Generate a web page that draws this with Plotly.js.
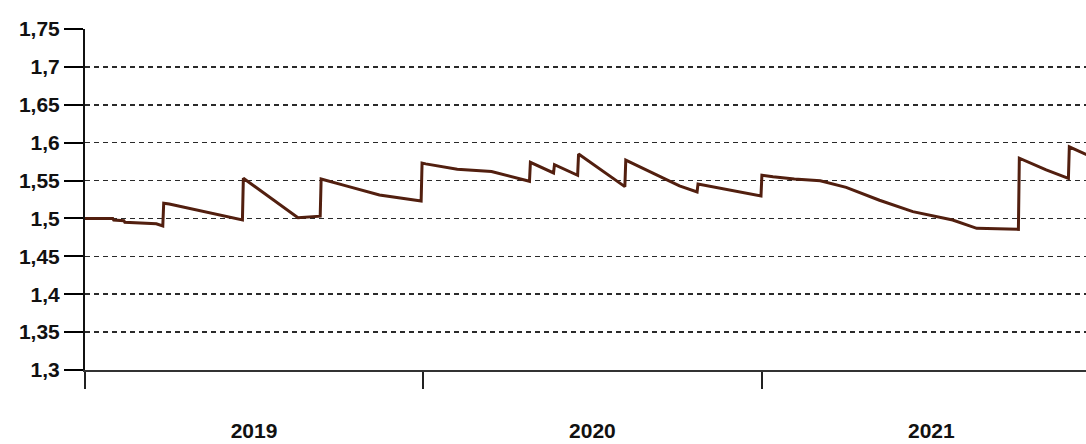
<!DOCTYPE html>
<html>
<head>
<meta charset="utf-8">
<script src="https://cdn.plot.ly/plotly-3.0.1.min.js"></script>
<style>
  html, body { margin: 0; padding: 0; background: #ffffff; }
  #chart { width: 1086px; height: 444px; }
</style>
</head>
<body>
<div id="chart"></div>
<script>
// Dates of the observations
const dates = [
  '2019-01-01', '2019-01-31', '2019-02-01', '2019-02-12', '2019-02-13', '2019-03-19', '2019-03-26',
  '2019-03-27', '2019-04-02', '2019-05-01', '2019-06-20',
  '2019-06-21', '2019-08-19', '2019-09-12',
  '2019-09-13', '2019-10-10', '2019-11-15', '2019-12-30',
  '2019-12-31', '2020-01-04', '2020-02-07', '2020-03-15', '2020-04-25',
  '2020-04-26', '2020-05-21',
  '2020-05-22', '2020-06-16',
  '2020-06-17', '2020-08-06',
  '2020-08-07', '2020-10-04', '2020-10-23',
  '2020-10-24', '2020-12-31',
  '2021-01-01', '2021-01-13', '2021-02-05', '2021-03-05', '2021-04-02', '2021-05-08',
  '2021-06-13', '2021-07-26', '2021-08-21', '2021-10-05',
  '2021-10-06', '2021-11-04', '2021-11-28',
  '2021-11-29', '2021-12-20'
];
// Series values
const values = [
  1.500, 1.500, 1.498, 1.497, 1.495, 1.493, 1.490,
  1.520, 1.519, 1.511, 1.498,
  1.553, 1.501, 1.503,
  1.552, 1.543, 1.531, 1.523,
  1.573, 1.572, 1.565, 1.562, 1.549,
  1.574, 1.560,
  1.571, 1.557,
  1.585, 1.542,
  1.577, 1.543, 1.535,
  1.5455, 1.5296,
  1.557, 1.555, 1.552, 1.5497, 1.541, 1.524,
  1.509, 1.498, 1.487, 1.4856,
  1.5795, 1.564, 1.553,
  1.5945, 1.583
];
// Y tick values (labels use a comma decimal separator)
const yTicks = [1.3, 1.35, 1.4, 1.45, 1.5, 1.55, 1.6, 1.65, 1.7, 1.75];
const xRange = ['2019-01-01', '2021-12-17'];

const trace = {
  x: dates,
  y: values,
  type: 'scatter',
  mode: 'lines',
  line: { color: '#521f0f', width: 3 },
  hoverinfo: 'x+y'
};

const font = { family: '"Liberation Sans", Arial, sans-serif', size: 21, color: '#111111', weight: 700 };

const layout = {
  width: 1086,
  height: 444,
  margin: { l: 85, r: 0, t: 29, b: 74, pad: 0 },
  paper_bgcolor: '#ffffff',
  plot_bgcolor: '#ffffff',
  separators: ',.',
  showlegend: false,
  xaxis: {
    type: 'date',
    range: xRange,
    tick0: '2019-01-01',
    dtick: 'M12',
    tickformat: '%Y',
    ticklabelmode: 'period',
    ticks: 'outside',
    ticklen: 17,
    tickwidth: 2,
    tickcolor: '#222222',
    showgrid: false,
    zeroline: false,
    showline: true,
    linecolor: '#333333',
    linewidth: 2,
    ticklabelstandoff: 24,
    tickfont: font
  },
  yaxis: {
    range: [1.3, 1.75],
    tickmode: 'array',
    tickvals: yTicks,
    ticks: 'outside',
    ticklen: 19,
    tickwidth: 2,
    tickcolor: '#000000',
    showgrid: true,
    gridcolor: '#2a2a2a',
    gridwidth: 1.5,
    griddash: '5px,4px',
    zeroline: false,
    showline: true,
    linecolor: '#111111',
    linewidth: 2,
    tickfont: font
  }
};

Plotly.newPlot('chart', [trace], layout, { staticPlot: true, displayModeBar: false });
</script>
</body>
</html>
